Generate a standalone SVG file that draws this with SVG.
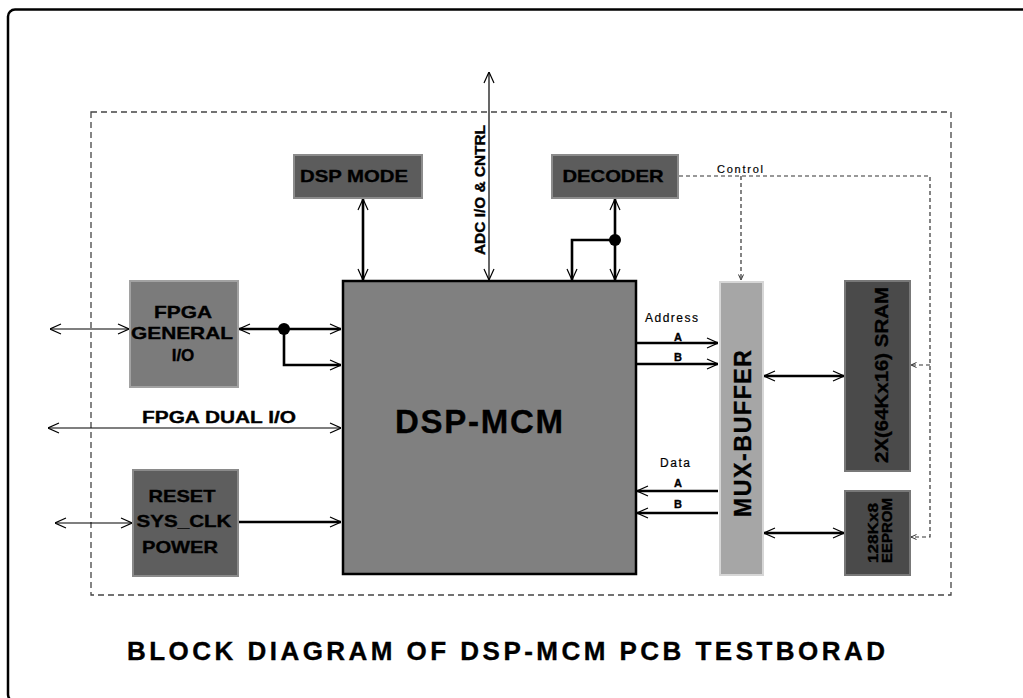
<svg xmlns="http://www.w3.org/2000/svg" width="1023" height="698" viewBox="0 0 1023 698">
<defs>
<style>
.t{font-family:"Liberation Sans",Arial,sans-serif;font-weight:bold;fill:#000;stroke:#000;stroke-width:0.35}
.n{font-family:"Liberation Sans",Arial,sans-serif;font-weight:normal;fill:#000;stroke:#000;stroke-width:0.2}
.thin{stroke:#000;stroke-width:1.2;fill:none}
.thick{stroke:#000;stroke-width:2.6;fill:none}
.dash{stroke:#333;stroke-width:1.2;fill:none;stroke-dasharray:4,3}
</style>
<marker id="ah" markerUnits="userSpaceOnUse" markerWidth="12" markerHeight="12" viewBox="0 0 12 12" refX="12" refY="6" orient="auto-start-reverse">
<path d="M1,1 L12,6 L1,11" fill="none" stroke="#000" stroke-width="1.2"/>
</marker>
<marker id="sh" markerUnits="userSpaceOnUse" markerWidth="6" markerHeight="6" viewBox="0 0 6 6" refX="6" refY="3" orient="auto">
<path d="M0.5,0.5 L6,3 L0.5,5.5" fill="none" stroke="#333" stroke-width="1"/>
</marker>
</defs>
<rect width="1023" height="698" fill="#fff"/>
<rect x="8" y="9.5" width="1030" height="692" rx="7" fill="none" stroke="#000" stroke-width="2.5"/>
<rect x="91" y="112" width="860" height="483" fill="none" stroke="#444" stroke-width="1.3" stroke-dasharray="6,4"/>

<g id="connectors">
<line class="thin" x1="489" y1="72" x2="489" y2="280" marker-start="url(#ah)" marker-end="url(#ah)"/>
<line class="thick" x1="363" y1="199" x2="363" y2="280" marker-start="url(#ah)" marker-end="url(#ah)"/>
<line class="thick" x1="615" y1="199" x2="615" y2="280" marker-start="url(#ah)" marker-end="url(#ah)"/>
<path class="thick" d="M615,240 H572 V280" marker-end="url(#ah)"/>
<circle cx="615" cy="240" r="6" fill="#000"/>
<line class="thin" x1="50" y1="329" x2="129" y2="329" marker-start="url(#ah)" marker-end="url(#ah)"/>
<line class="thick" x1="239" y1="329" x2="341" y2="329" marker-start="url(#ah)" marker-end="url(#ah)"/>
<path class="thick" d="M284,329 V365 H341" marker-end="url(#ah)"/>
<circle cx="284" cy="329" r="6" fill="#000"/>
<line class="thin" x1="48" y1="428" x2="341" y2="428" marker-start="url(#ah)" marker-end="url(#ah)"/>
<line class="thin" x1="55" y1="523" x2="132" y2="523" marker-start="url(#ah)" marker-end="url(#ah)"/>
<line class="thick" x1="238" y1="522" x2="341" y2="522" marker-end="url(#ah)"/>
<line class="thick" x1="637" y1="343" x2="718" y2="343" marker-end="url(#ah)"/>
<line class="thick" x1="637" y1="364" x2="718" y2="364" marker-end="url(#ah)"/>
<line class="thick" x1="718" y1="491" x2="637" y2="491" marker-end="url(#ah)"/>
<line class="thick" x1="718" y1="513" x2="637" y2="513" marker-end="url(#ah)"/>
<line class="thick" x1="764" y1="376" x2="844" y2="376" marker-start="url(#ah)" marker-end="url(#ah)"/>
<line class="thick" x1="764" y1="533" x2="844" y2="533" marker-start="url(#ah)" marker-end="url(#ah)"/>
<path class="dash" d="M679,176 H930 V537 H911" marker-end="url(#sh)"/>
<path class="dash" d="M741,176 V280" marker-end="url(#sh)"/>
<path class="dash" d="M930,365 H911" marker-end="url(#sh)"/>
<text class="t" font-size="14" text-anchor="middle" textLength="130" lengthAdjust="spacingAndGlyphs" transform="translate(485,190) rotate(-90)">ADC I/O &amp; CNTRL</text>
<text class="t" font-size="16" text-anchor="middle" x="219" y="423" textLength="154" lengthAdjust="spacingAndGlyphs">FPGA DUAL I/O</text>
<text class="n" font-size="11" x="717" y="173" textLength="46" lengthAdjust="spacing">Control</text>
<text class="n" font-size="12" x="645" y="322" textLength="53" lengthAdjust="spacing">Address</text>
<text class="t" font-size="11" text-anchor="middle" x="678" y="341">A</text>
<text class="t" font-size="11" text-anchor="middle" x="678" y="361">B</text>
<text class="n" font-size="12" x="660" y="467" textLength="30" lengthAdjust="spacing">Data</text>
<text class="t" font-size="11" text-anchor="middle" x="678" y="487">A</text>
<text class="t" font-size="11" text-anchor="middle" x="678" y="508">B</text>
</g>

<g id="dsp-mode">
<rect x="294" y="155" width="128" height="43" fill="#5c5c5c" stroke="#8c8c8c" stroke-width="2"/>
<text class="t" font-size="17" text-anchor="middle" x="354" y="182" textLength="108" lengthAdjust="spacingAndGlyphs">DSP MODE</text>
</g>
<g id="decoder">
<rect x="552" y="155" width="126" height="43" fill="#5c5c5c" stroke="#8c8c8c" stroke-width="2"/>
<text class="t" font-size="17" text-anchor="middle" x="613" y="182" textLength="101" lengthAdjust="spacingAndGlyphs">DECODER</text>
</g>
<g id="fpga-general">
<rect x="130" y="281" width="108" height="106" fill="#7b7b7b" stroke="#a2a2a2" stroke-width="2"/>
<text class="t" font-size="17" text-anchor="middle" x="183" y="318" textLength="58" lengthAdjust="spacingAndGlyphs">FPGA</text>
<text class="t" font-size="17" text-anchor="middle" x="182" y="339" textLength="102" lengthAdjust="spacingAndGlyphs">GENERAL</text>
<text class="t" font-size="17" text-anchor="middle" x="183" y="361">I/O</text>
</g>
<g id="reset">
<rect x="133" y="470" width="105" height="106" fill="#5e5e5e" stroke="#8a8a8a" stroke-width="2"/>
<text class="t" font-size="17" text-anchor="middle" x="182" y="502" textLength="67" lengthAdjust="spacingAndGlyphs">RESET</text>
<text class="t" font-size="17" text-anchor="middle" x="184" y="527" textLength="95" lengthAdjust="spacingAndGlyphs">SYS_CLK</text>
<text class="t" font-size="17" text-anchor="middle" x="180" y="553" textLength="76" lengthAdjust="spacingAndGlyphs">POWER</text>
</g>
<g id="dsp-mcm">
<rect x="343" y="281" width="293" height="293" fill="#808080" stroke="#000" stroke-width="2.5"/>
<text class="t" font-size="33" text-anchor="middle" x="479" y="433" textLength="168" lengthAdjust="spacing">DSP-MCM</text>
</g>
<g id="mux-buffer">
<rect x="720" y="282" width="43" height="293" fill="#a6a6a6" stroke="#d6d6d6" stroke-width="2"/>
<text class="t" font-size="23" text-anchor="middle" textLength="167" lengthAdjust="spacing" transform="translate(751,433.5) rotate(-90)">MUX-BUFFER</text>
</g>
<g id="sram">
<rect x="845" y="281" width="65" height="190" fill="#4a4a4a" stroke="#787878" stroke-width="2"/>
<text class="t" font-size="19" text-anchor="middle" textLength="176" lengthAdjust="spacingAndGlyphs" transform="translate(888,375) rotate(-90)">2X(64Kx16) SRAM</text>
</g>
<g id="eeprom">
<rect x="845" y="491" width="65" height="84" fill="#4a4a4a" stroke="#787878" stroke-width="2"/>
<text class="t" font-size="15" text-anchor="middle" textLength="60" lengthAdjust="spacingAndGlyphs" transform="translate(878,533) rotate(-90)">128Kx8</text>
<text class="t" font-size="15" text-anchor="middle" textLength="65" lengthAdjust="spacingAndGlyphs" transform="translate(892,530.5) rotate(-90)">EEPROM</text>
</g>
<g id="title">
<text class="t" font-size="26" x="127" y="660" textLength="758" lengthAdjust="spacing">BLOCK DIAGRAM OF DSP-MCM PCB TESTBORAD</text>
</g>
</svg>
